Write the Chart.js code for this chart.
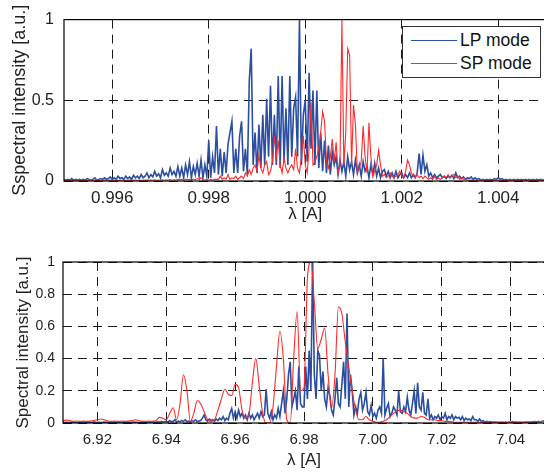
<!DOCTYPE html>
<html lang="en">

<head>
    <meta charset="UTF-8">
    <title>Spectra</title>
    <script src="https://cdn.jsdelivr.net/npm/chart.js"></script>
    <style>
        html, body { margin: 0; padding: 0; background: #fff; overflow: hidden; width: 544px; height: 473px; }
        .wrap { position: relative; width: 544px; height: 473px; overflow: hidden; }
        #graficoTopo { position: absolute; left: 0; top: 0; }
        #graficoBaixo { position: absolute; left: 0; top: 240px; }
        .legenda {
            position: absolute; left: 402px; top: 26px; width: 137px; height: 50px;
            border: 1px solid #333; background: #fff;
            font-family: "Liberation Sans", Arial, sans-serif; font-size: 17.5px; color: #111;
        }
        .item { position: absolute; left: 0; height: 20px; line-height: 20px; }
        .item span.linha { position: absolute; left: 8px; width: 46px; top: 10px; }
        .item span.texto { position: absolute; left: 57px; white-space: nowrap; }
    </style>
</head>

<body>
    <div class="wrap">
        <canvas id="graficoTopo" width="548" height="230"></canvas>
        <canvas id="graficoBaixo" width="548" height="233"></canvas>
        <div class="legenda">
            <div class="item" style="top: 3px;"><span class="linha" style="border-top: 1.3px solid #2b4ea0;"></span><span class="texto">LP mode</span></div>
            <div class="item" style="top: 26px;"><span class="linha" style="border-top: 1px solid #ff2a2a;"></span><span class="texto">SP mode</span></div>
        </div>
    </div>

<script>
    // wavelength grid (start + step per sample)
    const topStart = 0.995;
    const topStep = 0.00004;
    const topXTicks = [0.996, 0.998, 1.000, 1.002, 1.004];
    const topYTicks = [0, 0.5, 1];

    // top panel, LP mode
    const topLP = [
        0.01,0.005,0.01,0.005,0.015,0.005,0.01,0.005,0.01,0.005,
        0.01,0.005,0.015,0.01,0.005,0.01,0.02,0.005,0.01,0.015,
        0.01,0.02,0.01,0.015,0.025,0.01,0.02,0.01,0.03,0.015,
        0.02,0.01,0.03,0.015,0.025,0.01,0.035,0.02,0.03,0.015,
        0.04,0.02,0.03,0.05,0.02,0.04,0.025,0.06,0.03,0.045,
        0.02,0.07,0.035,0.05,0.03,0.08,0.04,0.06,0.03,0.09,
        0.03,0.08,0.02,0.1,0.04,0.12,0.02,0.09,0.04,0.11,
        0.03,0.13,0.02,0.1,0.03,0.25,0.02,0.15,0.05,0.34,
        0.04,0.2,0.03,0.18,0.05,0.23,0.3,0.37,0.05,0.2,
        0.05,0.28,0.37,0.06,0.2,0.04,0.62,0.82,0.1,0.3,
        0.05,0.35,0.08,0.41,0.1,0.51,0.15,0.59,0.1,0.41,
        0.1,0.65,0.08,0.65,0.12,0.45,0.1,0.65,0.15,0.45,
        0.52,0.15,1.0,0.1,0.41,0.5,0.12,0.67,0.2,0.56,
        0.1,0.56,0.08,0.3,0.06,0.25,0.05,0.22,0.04,0.18,
        0.1,0.15,0.04,0.13,0.06,0.12,0.03,0.15,0.07,0.12,
        0.04,0.13,0.05,0.1,0.03,0.12,0.06,0.09,0.02,0.1,
        0.04,0.11,0.03,0.08,0.02,0.06,0.07,0.03,0.06,0.02,
        0.05,0.02,0.06,0.02,0.04,0.05,0.02,0.04,0.02,0.05,
        0.02,0.04,0.02,0.05,0.17,0.04,0.16,0.06,0.1,0.03,
        0.05,0.02,0.04,0.02,0.03,0.04,0.02,0.03,0.015,0.03,
        0.02,0.035,0.015,0.05,0.02,0.03,0.015,0.025,0.01,0.02,
        0.015,0.025,0.01,0.02,0.01,0.015,0.005,0.01,0.005,0.01,
        0.005,0.01,0.005,0.015,0.01,0.02,0.01,0.015,0.005,0.01,
        0.005,0.01,0.005,0.01,0.005,0.01,0.005,0.01,0.005,0.01,
        0.005,0.01,0.005,0.01,0.005,0.01,0.005,0.01,0.005,0.01,0.005
    ];

    // top panel, SP mode
    const topSP = [
        0.005,0.006,0.005,0.005,0.006,0.005,0.005,0.006,0.005,0.005,
        0.005,0.006,0.005,0.005,0.006,0.005,0.005,0.006,0.005,0.005,
        0.005,0.006,0.005,0.005,0.006,0.005,0.005,0.006,0.005,0.005,
        0.005,0.006,0.005,0.005,0.006,0.005,0.005,0.006,0.005,0.005,
        0.005,0.006,0.005,0.007,0.005,0.006,0.005,0.008,0.005,0.006,
        0.006,0.008,0.005,0.007,0.006,0.009,0.005,0.008,0.006,0.01,
        0.007,0.01,0.006,0.012,0.008,0.01,0.007,0.012,0.008,0.015,
        0.01,0.02,0.01,0.005,0.01,0.005,0.01,0.005,0.01,0.01,
        0.01,0.03,0.01,0.02,0.01,0.04,0.01,0.02,0.015,0.03,
        0.01,0.02,0.03,0.015,0.05,0.03,0.07,0.04,0.08,0.1,
        0.06,0.16,0.08,0.05,0.1,0.12,0.04,0.06,0.12,0.28,
        0.15,0.25,0.1,0.05,0.14,0.08,0.05,0.08,0.1,0.07,
        0.2,0.08,0.05,0.15,0.28,0.1,0.05,0.2,0.49,0.1,
        0.12,0.15,0.2,0.3,0.43,0.37,0.12,0.08,0.15,0.26,
        0.12,0.24,0.05,0.1,1.0,0.1,0.3,0.82,0.78,0.1,
        0.47,0.35,0.05,0.08,0.12,0.34,0.15,0.05,0.36,0.15,
        0.03,0.06,0.1,0.19,0.1,0.03,0.04,0.02,0.03,0.05,
        0.03,0.02,0.03,0.04,0.06,0.03,0.02,0.06,0.13,0.1,
        0.05,0.03,0.02,0.04,0.02,0.03,0.015,0.03,0.02,0.01,
        0.02,0.01,0.03,0.01,0.02,0.01,0.02,0.03,0.02,0.04,
        0.02,0.03,0.04,0.02,0.03,0.01,0.02,0.01,0.015,0.005,
        0.005,0.006,0.005,0.005,0.006,0.005,0.005,0.006,0.005,0.005,
        0.005,0.006,0.005,0.005,0.006,0.005,0.005,0.006,0.005,0.005,
        0.005,0.006,0.005,0.005,0.006,0.005,0.005,0.006,0.005,0.005,
        0.005,0.006,0.005,0.005,0.006,0.005,0.005,0.006,0.005,0.005,0.005
    ];

    const botStart = 6.91;
    const botLPStep = 0.0005;
    const botSPStep = 0.001;
    const botXTicks = [6.92, 6.94, 6.96, 6.98, 7.00, 7.02, 7.04];
    const botYTicks = [0, 0.2, 0.4, 0.6, 0.8, 1];

    // bottom panel, LP mode
    const botLP = [
        0.004,0.003,0.005,0.003,0.004,0.006,0.003,0.004,0.003,0.005,
        0.003,0.004,0.006,0.003,0.005,0.003,0.004,0.003,0.006,0.004,
        0.003,0.005,0.003,0.004,0.006,0.003,0.004,0.005,0.003,0.004,
        0.006,0.003,0.005,0.004,0.003,0.006,0.004,0.003,0.005,0.004,
        0.003,0.006,0.004,0.005,0.003,0.004,0.007,0.003,0.005,0.004,
        0.006,0.004,0.008,0.005,0.004,0.007,0.005,0.009,0.006,0.008,
        0.01,0.005,0.015,0.008,0.01,0.02,0.006,0.012,0.008,0.015,
        0.01,0.02,0.008,0.012,0.006,0.015,0.01,0.02,0.008,0.012,
        0.015,0.03,0.05,0.02,0.01,0.025,0.015,0.02,0.01,0.025,
        0.015,0.03,0.02,0.04,0.015,0.03,0.02,0.06,0.09,0.03,
        0.07,0.03,0.08,0.04,0.06,0.03,0.05,0.02,0.06,0.03,
        0.05,0.02,0.04,0.06,0.03,0.07,0.04,0.05,0.21,0.06,
        0.03,0.07,0.02,0.05,0.03,0.09,0.04,0.12,0.2,0.06,
        0.15,0.3,0.38,0.1,0.15,0.2,0.08,0.35,0.12,0.1,
        0.1,0.35,0.15,0.45,0.2,1.0,0.3,0.15,0.45,0.42,
        0.2,0.32,0.15,0.1,0.22,0.17,0.08,0.05,0.15,0.28,
        0.12,0.1,0.24,0.38,0.15,0.68,0.1,0.3,0.2,0.05,
        0.1,0.06,0.15,0.19,0.08,0.12,0.19,0.07,0.05,0.11,
        0.04,0.06,0.03,0.08,0.1,0.06,0.4,0.05,0.09,0.12,
        0.04,0.06,0.1,0.08,0.05,0.2,0.07,0.06,0.1,0.07,
        0.16,0.08,0.05,0.12,0.2,0.06,0.25,0.1,0.08,0.19,
        0.06,0.05,0.15,0.03,0.05,0.02,0.04,0.03,0.05,0.02,
        0.04,0.03,0.06,0.02,0.04,0.03,0.05,0.02,0.04,0.03,
        0.035,0.02,0.04,0.015,0.03,0.02,0.025,0.015,0.04,0.02,
        0.02,0.01,0.025,0.01,0.015,0.005,0.01,0.005,0.008,0.004,
        0.006,0.004,0.005,0.003,0.005,0.004,0.003,0.004,0.003,0.004,
        0.003,0.008,0.004,0.006,0.003,0.005,0.004,0.003,0.005,0.004,
        0.006,0.004,0.003,0.005,0.008,0.004,0.01,0.006,0.008,0.012,0.01
    ];

    // bottom panel, SP mode
    const botSP = [
        0.015,0.018,0.015,0.01,0.012,0.01,0.012,0.01,0.012,0.015,
        0.02,0.025,0.02,0.012,0.01,0.012,0.01,0.012,0.01,0.012,
        0.015,0.02,0.015,0.01,0.01,0.012,0.01,0.015,0.035,0.03,
        0.02,0.06,0.095,0.02,0.12,0.3,0.2,0.01,0.06,0.14,
        0.12,0.07,0.02,0.01,0.02,0.08,0.15,0.21,0.18,0.17,
        0.24,0.22,0.08,0.03,0.05,0.25,0.4,0.23,0.06,0.0,
        0.0,0.1,0.35,0.57,0.4,0.02,0.0,0.4,0.69,0.2,
        0.22,0.9,1.0,0.75,0.46,0.52,0.59,0.3,0.09,0.3,
        0.72,0.68,0.5,0.35,0.2,0.08,0.02,0.02,0.04,0.02,
        0.01,0.005,0.005,0.01,0.02,0.04,0.06,0.075,0.08,0.07,
        0.06,0.04,0.03,0.03,0.04,0.035,0.02,0.02,0.02,0.015,
        0.015,0.01,0.01,0.008,0.005,0.005,0.005,0.005,0.005,0.005,
        0.005,0.005,0.005,0.005,0.005,0.005,0.005,0.005,0.005,0.005,
        0.005,0.005,0.005,0.005,0.005,0.005,0.008,0.01,0.008,0.01,0.01
    ];

    const corLP = '#2b4ea0';
    const corSP = '#ff2a2a';
    const fonte = '"Liberation Sans", Arial, sans-serif';

    Chart.defaults.font.family = fonte;
    Chart.defaults.color = '#222';

    function montarPontos(inicio, passo, valores) {
        return valores.map(function (v, i) {
            return { x: inicio + i * passo, y: v };
        });
    }

    // moldura do eixo (sem o lado direito, que fica fora da imagem)
    const moldura = {
        id: 'moldura',
        afterDatasetsDraw(chart) {
            const ctx = chart.ctx;
            const a = chart.chartArea;
            ctx.save();
            ctx.strokeStyle = '#000';
            ctx.lineWidth = 1.2;
            ctx.strokeRect(a.left, a.top, a.right - a.left, a.bottom - a.top);
            ctx.restore();
        }
    };

    function configurar(opts) {
        return {
            type: 'line',
            data: {
                datasets: [
                    {
                        label: 'SP mode',
                        data: opts.sp,
                        borderColor: corSP,
                        borderWidth: 1.1,
                        pointRadius: 0,
                        tension: 0,
                        cubicInterpolationMode: opts.spSuave ? 'monotone' : 'default',
                        order: 1
                    },
                    {
                        label: 'LP mode',
                        data: opts.lp,
                        borderColor: corLP,
                        borderWidth: 1.6,
                        pointRadius: 0,
                        tension: 0,
                        order: 2
                    }
                ]
            },
            options: {
                responsive: false,
                animation: false,
                events: [],
                layout: { padding: opts.padding },
                plugins: { legend: { display: false }, tooltip: { enabled: false } },
                scales: {
                    x: {
                        type: 'linear',
                        min: opts.xMin,
                        max: opts.xMax,
                        afterBuildTicks: function (scale) {
                            scale.ticks = opts.xTicks.map(function (v) { return { value: v }; });
                        },
                        afterFit: function (scale) { scale.height = opts.xAxisHeight; },
                        ticks: {
                            autoSkip: false,
                            maxRotation: 0,
                            padding: opts.xTickPad,
                            color: '#222',
                            font: { size: opts.xTickSize },
                            callback: function (v) { return v.toFixed(opts.xDecimals); }
                        },
                        grid: { color: '#1a1a1a', lineWidth: 1, drawTicks: false },
                        border: { display: false, dash: [9, 6] },
                        title: {
                            display: true,
                            text: 'λ [A]',
                            color: '#222',
                            font: { size: 17 },
                            padding: { top: 0, bottom: opts.xTitlePad }
                        }
                    },
                    y: {
                        type: 'linear',
                        min: 0,
                        max: 1,
                        afterBuildTicks: function (scale) {
                            scale.ticks = opts.yTicks.map(function (v) { return { value: v }; });
                        },
                        afterFit: function (scale) { scale.width = opts.yAxisWidth; },
                        ticks: {
                            autoSkip: false,
                            padding: opts.yTickPad,
                            color: '#222',
                            font: { size: opts.yTickSize },
                            callback: function (v) { return String(v); }
                        },
                        grid: { color: '#1a1a1a', lineWidth: 1, drawTicks: false },
                        border: { display: false, dash: [9, 6] },
                        title: {
                            display: true,
                            text: opts.yTitle,
                            color: '#222',
                            font: { size: opts.yTitleSize },
                            padding: { top: opts.yTitlePad, bottom: 0 }
                        }
                    }
                }
            },
            plugins: [moldura]
        };
    }

    let chartTopo = new Chart(document.getElementById('graficoTopo'), configurar({
        lp: montarPontos(topStart, topStep, topLP),
        sp: montarPontos(topStart, topStep, topSP),
        spSuave: false,
        xMin: 0.995, xMax: 1.005,
        xTicks: topXTicks, yTicks: topYTicks,
        xDecimals: 3,
        padding: { top: 18, right: 1.5, bottom: 0, left: 0 },
        xAxisHeight: 49, yAxisWidth: 64,
        xTickSize: 17, xTickPad: 7, yTickSize: 16, yTickPad: 10,
        xTitlePad: 5, yTitlePad: 9, yTitleSize: 18,
        yTitle: 'Sspectral intensity [a.u.]'
    }));

    let chartBaixo = new Chart(document.getElementById('graficoBaixo'), configurar({
        lp: montarPontos(botStart, botLPStep, botLP),
        sp: montarPontos(botStart, botSPStep, botSP),
        spSuave: true,
        xMin: 6.91, xMax: 7.05,
        xTicks: botXTicks, yTicks: botYTicks,
        xDecimals: 2,
        padding: { top: 22, right: 3, bottom: 0, left: 0 },
        xAxisHeight: 50, yAxisWidth: 63,
        xTickSize: 15, xTickPad: 8, yTickSize: 14, yTickPad: 8,
        xTitlePad: 2, yTitlePad: 13, yTitleSize: 17,
        yTitle: 'Spectral intensity [a.u.]'
    }));
</script>
</body>

</html>
